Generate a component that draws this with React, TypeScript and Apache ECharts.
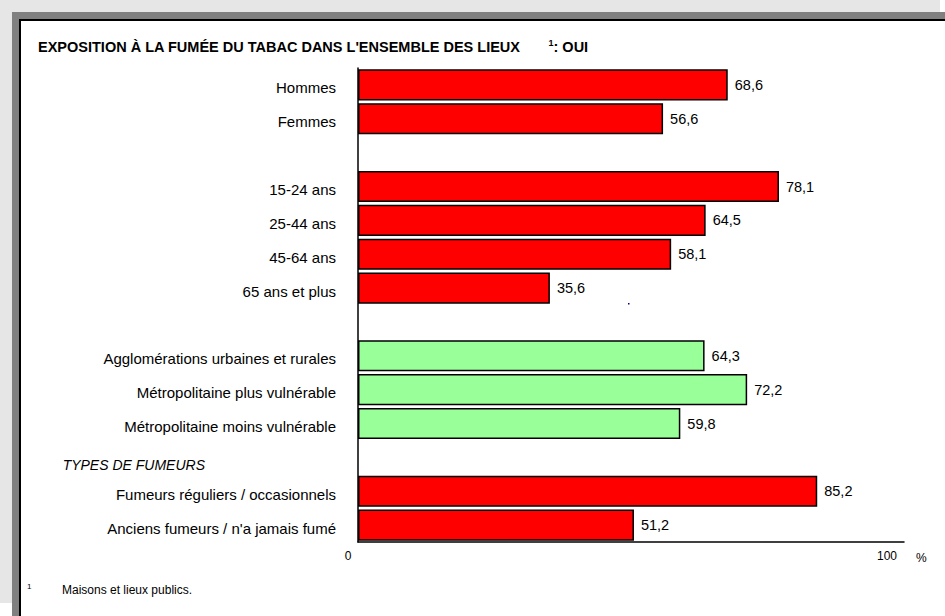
import React, { useEffect, useRef } from "react";
import * as echarts from "echarts";

const categories = [
  "Hommes",
  "Femmes",
  "",
  "15-24 ans",
  "25-44 ans",
  "45-64 ans",
  "65 ans et plus",
  " ",
  "Agglomérations urbaines et rurales",
  "Métropolitaine plus vulnérable",
  "Métropolitaine moins vulnérable",
  "TYPES DE FUMEURS",
  "Fumeurs réguliers / occasionnels",
  "Anciens fumeurs / n'a jamais fumé",
];
const values = [68.6, 56.6, null, 78.1, 64.5, 58.1, 35.6, null, 64.3, 72.2, 59.8, null, 85.2, 51.2];
const greenCategories = [
  "Agglomérations urbaines et rurales",
  "Métropolitaine plus vulnérable",
  "Métropolitaine moins vulnérable",
];
const sectionHeadings = ["TYPES DE FUMEURS"];
const xTicks = [0, 100];
const titleText = "EXPOSITION À LA FUMÉE DU TABAC DANS L'ENSEMBLE DES LIEUX";
const titleSuffix = ": OUI";
const footnoteMark = "1";
const footnoteText = "Maisons et lieux publics.";

const FONT = "'Liberation Sans', Arial, sans-serif";

export default function App() {
  const ref = useRef<HTMLDivElement>(null);
  useEffect(() => {
    document.body.style.margin = "0";
    document.body.style.overflow = "hidden";
    document.documentElement.style.overflow = "hidden";
    const chart = echarts.init(ref.current!, null, { renderer: "svg" });
    chart.setOption({
      animation: false,
      backgroundColor: "#ffffff",
      textStyle: { fontFamily: FONT },
      graphic: [
        { type: "rect", z: -10, silent: true, shape: { x: 0, y: 0, width: 940, height: 603 }, style: { fill: "#e6e6e6" } },
        { type: "rect", z: -9, silent: true, shape: { x: 12, y: 12, width: 933, height: 604 }, style: { fill: "#808080" } },
        { type: "rect", z: -8, silent: true, shape: { x: 20, y: 20, width: 925, height: 596 }, style: { fill: "#ffffff" } },
        { type: "line", z: -7, silent: true, shape: { x1: 19, y1: 20, x2: 945, y2: 20 }, style: { stroke: "#000", lineWidth: 2 } },
        { type: "line", z: -7, silent: true, shape: { x1: 20, y1: 19, x2: 20, y2: 616 }, style: { stroke: "#000", lineWidth: 2 } },
        { type: "rect", z: -6, silent: true, shape: { x: 628, y: 303, width: 1.5, height: 1.5 }, style: { fill: "#000080" } },
      ],
      title: [
        {
          text: titleText + "{sup|1}{b|" + titleSuffix + "}",
          left: 38,
          top: 38,
          padding: 0,
          textStyle: {
            fontFamily: FONT,
            fontSize: 14.5,
            fontWeight: "bold",
            color: "#000",
            rich: {
              sup: { fontSize: 9, fontWeight: "bold", verticalAlign: "top", padding: [0, 0, 8, 28], fontFamily: FONT, color: "#000" },
              b: { fontSize: 14.5, fontWeight: "bold", fontFamily: FONT, color: "#000" },
            },
          },
        },
        { text: footnoteMark, left: 27, top: 582, padding: 0, textStyle: { fontFamily: FONT, fontSize: 8, fontWeight: "normal", color: "#000" } },
        { text: footnoteText, left: 62, top: 584, padding: 0, textStyle: { fontFamily: FONT, fontSize: 12, fontWeight: "normal", color: "#000" } },
      ],
      grid: { left: 358, right: 41, top: 68, bottom: 74, containLabel: false },
      xAxis: {
        type: "value",
        min: 0,
        max: 101.3,
        interval: 100,
        splitLine: { show: false },
        axisTick: { show: false },
        axisLine: { show: true, lineStyle: { color: "#000", width: 1.5 } },
        axisLabel: {
          showMaxLabel: false,
          color: "#000",
          fontSize: 12,
          fontFamily: FONT,
          margin: 8,
          padding: [0, 20, 0, 0],
          formatter: (v: number) => (xTicks.includes(v) ? String(v) : ""),
        },
        name: "%",
        nameLocation: "end",
        nameGap: 12,
        nameTextStyle: { color: "#000", fontSize: 12, fontFamily: FONT, verticalAlign: "top", padding: [10, 0, 0, 0] },
      },
      yAxis: {
        type: "category",
        inverse: true,
        data: categories,
        axisTick: { show: false },
        axisLine: { show: true, lineStyle: { color: "#000", width: 1.5 } },
        axisLabel: {
          color: "#000",
          fontSize: 15,
          fontFamily: FONT,
          margin: 22,
          interval: 0,
          formatter: (v: string) => (sectionHeadings.includes(v) ? "{h|" + v + "}" : "{n|" + v + "}"),
          rich: {
            n: { fontSize: 15, fontFamily: FONT, color: "#000", padding: [6, 0, 0, 0] },
            h: { fontSize: 14, fontStyle: "italic", fontFamily: FONT, color: "#000", padding: [16, 131, 0, 0] },
          },
        },
      },
      series: [
        {
          type: "bar",
          data: values,
          barCategoryGap: "8%",
          itemStyle: {
            color: (p: any) => (greenCategories.includes(categories[p.dataIndex]) ? "#99ff99" : "#ff0000"),
            borderColor: "#000",
            borderWidth: 1.5,
          },
          label: {
            show: true,
            position: "right",
            distance: 7,
            color: "#000",
            fontSize: 14.5,
            fontFamily: FONT,
            padding: [6, 0, 0, 0],
            formatter: (p: any) => (p.value == null ? "" : Number(p.value).toFixed(1).replace(".", ",")),
          },
        },
      ],
    });
    return () => chart.dispose();
  }, []);
  return <div ref={ref} style={{ position: "absolute", left: 0, top: 0, width: 945, height: 616 }} />;
}
